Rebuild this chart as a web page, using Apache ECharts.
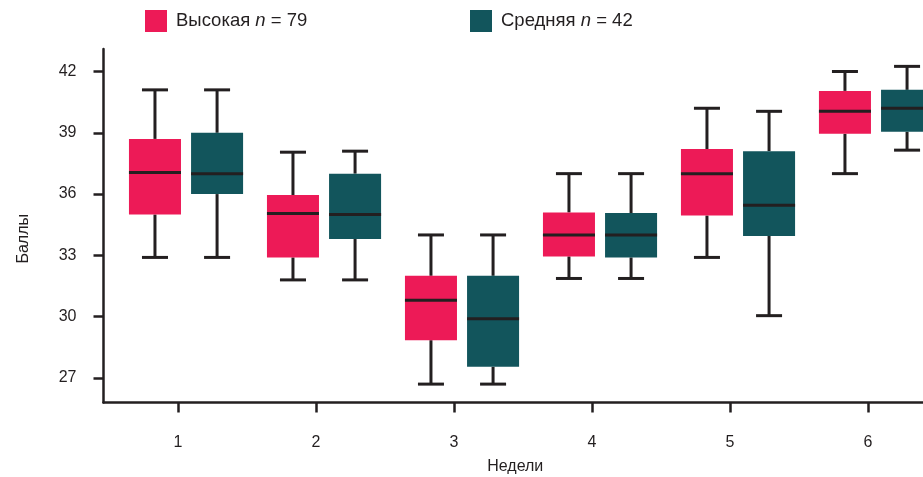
<!DOCTYPE html>
<html>
<head>
<meta charset="utf-8">
<script src="https://cdn.jsdelivr.net/npm/echarts@6/dist/echarts.min.js"></script>
<style>
html,body{margin:0;padding:0;background:#fff;}
#chart{width:923px;height:477px;}
</style>
</head>
<body>
<div id="chart"></div>
<script>
// Categories (weeks)
const weeks = ['1', '2', '3', '4', '5', '6'];
// Box values per week: [min, Q1, median, Q3, max]
const highValues = [
  [32.9, 35.0, 37.05, 38.7, 41.1],
  [31.8, 32.9, 35.05, 35.95, 38.05],
  [26.7, 28.85, 30.8, 32.0, 34.0],
  [31.87, 32.95, 34.0, 35.1, 37.0],
  [32.9, 34.95, 37.0, 38.2, 40.2],
  [37.0, 38.95, 40.05, 41.05, 42.0]
];
const mediumValues = [
  [32.9, 36.0, 37.0, 39.0, 41.1],
  [31.8, 33.8, 35.0, 37.0, 38.1],
  [26.7, 27.55, 29.9, 32.0, 34.0],
  [31.87, 32.9, 34.0, 35.07, 37.0],
  [30.05, 33.95, 35.45, 38.1, 40.05],
  [38.15, 39.05, 40.2, 41.1, 42.25]
];
const yTicks = [27, 30, 33, 36, 39, 42];
const seriesNames = ['Высокая n = 79', 'Средняя n = 42'];

const INK = '#231f20';
const FONT = '"Liberation Sans", Arial, sans-serif';
const RED = '#ed1a57';
const TEAL = '#12555c';
const xPositions = weeks.map((w, i) => i + 1);

function makeRender(shift, color) {
  return function (params, api) {
    const x = api.value(0);
    const band = api.size([1, 0])[0];
    const cx = api.coord([x, 0])[0] + band * shift;
    const w = band * 0.377;
    const yMin = api.coord([x, api.value(1)])[1];
    const yQ1 = api.coord([x, api.value(2)])[1];
    const yMed = api.coord([x, api.value(3)])[1];
    const yQ3 = api.coord([x, api.value(4)])[1];
    const yMax = api.coord([x, api.value(5)])[1];
    const ls = { stroke: INK, lineWidth: 3 };
    return {
      type: 'group',
      children: [
        { type: 'line', shape: { x1: cx, y1: yMax, x2: cx, y2: yQ3 }, style: ls },
        { type: 'line', shape: { x1: cx, y1: yQ1, x2: cx, y2: yMin }, style: ls },
        { type: 'line', shape: { x1: cx - w / 4, y1: yMax, x2: cx + w / 4, y2: yMax }, style: ls },
        { type: 'line', shape: { x1: cx - w / 4, y1: yMin, x2: cx + w / 4, y2: yMin }, style: ls },
        { type: 'rect', shape: { x: cx - w / 2, y: yQ3, width: w, height: yQ1 - yQ3 }, style: { fill: color } },
        { type: 'line', shape: { x1: cx - w / 2, y1: yMed, x2: cx + w / 2, y2: yMed }, style: ls }
      ]
    };
  };
}

function toData(values) {
  return values.map((v, i) => [xPositions[i]].concat(v));
}

const LFS = 18.5;
const legendText = {
  fontFamily: FONT, fontSize: LFS, color: INK, padding: [0, 0, 0, 4],
  rich: {
    a: { fontFamily: FONT, fontSize: LFS, color: INK },
    i: { fontFamily: FONT, fontSize: LFS, color: INK, fontStyle: 'italic' }
  }
};
function legendFormatter(name) {
  const parts = name.split(' n ');
  return '{a|' + parts[0] + ' }{i|n}{a| ' + parts[1] + '}';
}

const chart = echarts.init(document.getElementById('chart'), null, { renderer: 'canvas' });
chart.setOption({
  animation: false,
  backgroundColor: '#fff',
  textStyle: { fontFamily: FONT },
  legend: [
    {
      data: [seriesNames[0]], left: 145, top: 10, padding: 0, itemWidth: 22, itemHeight: 22,
      icon: 'rect', itemGap: 0, textStyle: legendText, formatter: legendFormatter, selectedMode: false
    },
    {
      data: [seriesNames[1]], left: 470, top: 10, padding: 0, itemWidth: 22, itemHeight: 22,
      icon: 'rect', itemGap: 0, textStyle: legendText, formatter: legendFormatter, selectedMode: false
    }
  ],
  grid: { left: 103.5, right: -14, top: 49, bottom: 74.5, containLabel: false, outerBoundsMode: 'none' },
  xAxis: {
    type: 'value',
    min: 0.46,
    max: 6.5,
    name: 'Недели',
    nameLocation: 'middle',
    nameGap: 56,
    nameTextStyle: { fontFamily: FONT, fontSize: 16, color: INK, padding: [0, 10, 0, 0] },
    axisLine: { show: true, onZero: false, lineStyle: { color: INK, width: 2.5 } },
    axisTick: { show: true, length: 10, customValues: xPositions, lineStyle: { color: INK, width: 2.5 } },
    axisLabel: {
      margin: 32, fontFamily: FONT, fontSize: 16, color: INK, customValues: xPositions,
      formatter: (v) => weeks[Math.round(v) - 1]
    },
    splitLine: { show: false }
  },
  yAxis: {
    type: 'value',
    min: 25.8,
    max: 43.1,
    name: 'Баллы',
    nameLocation: 'middle',
    nameGap: 72,
    nameRotate: 90,
    nameTextStyle: { fontFamily: FONT, fontSize: 16, color: INK, padding: [0, 26, 0, 0] },
    axisLine: { show: true, onZero: false, lineStyle: { color: INK, width: 2.5 } },
    axisTick: { show: true, length: 10, customValues: yTicks, lineStyle: { color: INK, width: 2.5 } },
    axisLabel: { margin: 27, fontFamily: FONT, fontSize: 16, color: INK, customValues: yTicks },
    splitLine: { show: false }
  },
  series: [
    {
      name: seriesNames[0], type: 'custom', itemStyle: { color: RED },
      renderItem: makeRender(-0.225 + 0.058, RED),
      encode: { x: 0, y: [1, 2, 3, 4, 5] },
      data: toData(highValues)
    },
    {
      name: seriesNames[1], type: 'custom', itemStyle: { color: TEAL },
      renderItem: makeRender(0.225 + 0.058, TEAL),
      encode: { x: 0, y: [1, 2, 3, 4, 5] },
      data: toData(mediumValues)
    }
  ]
});
</script>
</body>
</html>
